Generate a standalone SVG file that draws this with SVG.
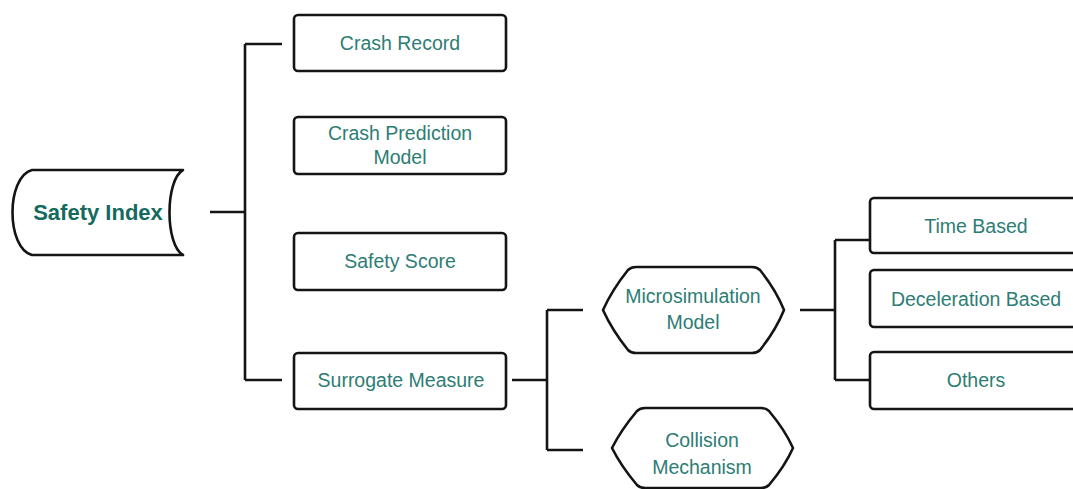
<svg xmlns="http://www.w3.org/2000/svg" width="1073" height="489" viewBox="0 0 1073 489">
<style>
.box{fill:#fff;stroke:#141414;stroke-width:2.6}
.ln{fill:none;stroke:#141414;stroke-width:2.6;stroke-linecap:butt}
.t{font-family:"Liberation Sans",Arial,sans-serif;font-size:19.5px;fill:#2d7d74;text-anchor:middle}
.tb{font-family:"Liberation Sans",Arial,sans-serif;font-size:22px;font-weight:bold;fill:#156a5e;text-anchor:middle}
</style>
<rect width="1073" height="489" fill="#fff"/>
<g id="connectors">
<path class="ln" d="M210,212 H245 M245,44 V380 M245,44 H282 M245,380 H282"/>
<path class="ln" d="M512,380 H547 M547,310 V450 M547,310 H583 M547,450 H583"/>
<path class="ln" d="M800,310 H835 M835,240 V380 M835,240 H870 M835,380 H870"/>
</g>
<g id="safety-index">
<path class="box" d="M32,170 H183 C165,180 165,245 183,255 H32 C6,248 6,177 32,170 Z" stroke-linejoin="round"/>
<text class="tb" x="98" y="220">Safety Index</text>
</g>
<g id="crash-record">
<rect class="box" x="294" y="15" width="212" height="56" rx="4"/>
<text class="t" x="400" y="50">Crash Record</text>
</g>
<g id="crash-prediction-model">
<rect class="box" x="294" y="117" width="212" height="57" rx="4"/>
<text class="t" x="400" y="140">Crash Prediction</text>
<text class="t" x="400" y="164">Model</text>
</g>
<g id="safety-score">
<rect class="box" x="294" y="233" width="212" height="57" rx="4"/>
<text class="t" x="400" y="268">Safety Score</text>
</g>
<g id="surrogate-measure">
<rect class="box" x="294" y="353" width="212" height="56" rx="4"/>
<text class="t" x="401" y="387">Surrogate Measure</text>
</g>
<g id="microsimulation-model">
<path class="box" stroke-linejoin="round" d="M603,310 Q612,290 628,270 Q631,267 636,267 H752 Q757,267 760,270 Q776,290 784,310 Q776,330 760,350 Q757,353 752,353 H636 Q631,353 628,350 Q612,330 603,310 Z"/>
<text class="t" x="693" y="303">Microsimulation</text>
<text class="t" x="693" y="329">Model</text>
</g>
<g id="collision-mechanism">
<path class="box" stroke-linejoin="round" d="M612,448 Q621,430 637,411 Q640,408 645,408 H761 Q766,408 769,411 Q785,430 793,448 Q785,466 769,485 Q766,488 761,488 H645 Q640,488 637,485 Q621,466 612,448 Z"/>
<text class="t" x="702" y="447">Collision</text>
<text class="t" x="702" y="474">Mechanism</text>
</g>
<g id="time-based">
<rect class="box" x="870" y="198" width="212" height="55" rx="4"/>
<text class="t" x="976" y="233">Time Based</text>
</g>
<g id="deceleration-based">
<rect class="box" x="870" y="270" width="212" height="57" rx="4"/>
<text class="t" x="976" y="306">Deceleration Based</text>
</g>
<g id="others">
<rect class="box" x="870" y="352" width="212" height="57" rx="4"/>
<text class="t" x="976" y="387">Others</text>
</g>
</svg>
